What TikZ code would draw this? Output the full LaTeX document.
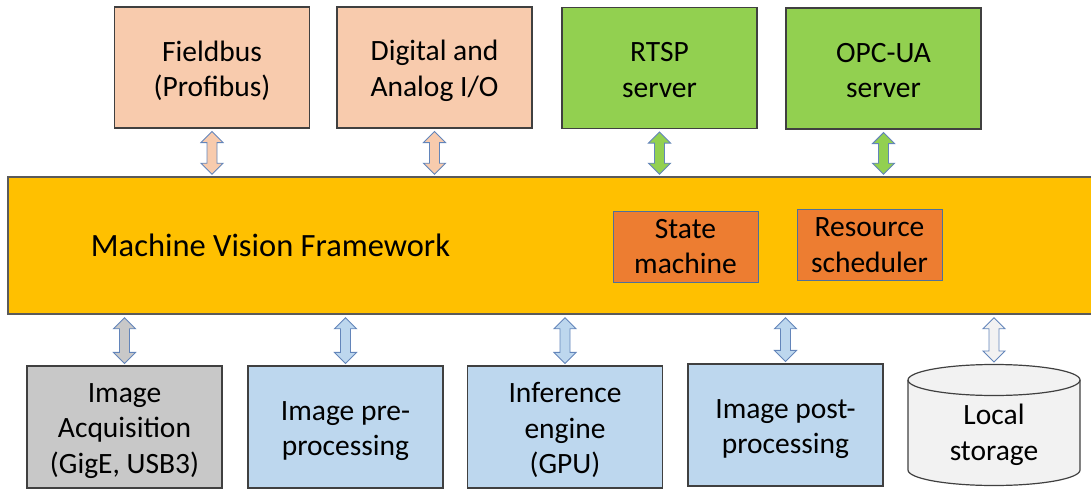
\documentclass[tikz,border=0pt]{standalone}
\usepackage{fontspec}
\setmainfont{Carlito}
\usetikzlibrary{calc}

\definecolor{peach}{HTML}{F8CBAD}
\definecolor{leaf}{HTML}{92D050}
\definecolor{amber}{HTML}{FFC000}
\definecolor{rust}{HTML}{ED7D31}
\definecolor{sky}{HTML}{BDD7EE}
\definecolor{stone}{HTML}{C8C8C8}
\definecolor{pale}{HTML}{F2F2F2}
\definecolor{boxline}{HTML}{404040}
\definecolor{frameline}{HTML}{5A5A5A}
\definecolor{innerline}{HTML}{50709A}
\definecolor{arrowline}{HTML}{6385BA}

\newcommand\boxfont{\fontsize{29.5}{35.5}\selectfont}
\newcommand\titlefont{\fontsize{32.5}{38}\selectfont}
% taller first-line struts nudge the centred text blocks down a little
\newcommand\tl{\rule{0pt}{27pt}}
\newcommand\tls{\rule{0pt}{23pt}}

% block-style double-headed vertical arrow between two points
\newcommand\udarrow[3]{%
  \filldraw[#1] let \p1=(#2), \p2=(#3) in
    (\x1,\y1-3pt) -- (\x1+11pt,\y1-14pt) -- (\x1+5pt,\y1-14pt) --
    (\x1+5pt,\y2+13pt) -- (\x1+11pt,\y2+13pt) -- (\x1,\y2+2pt) --
    (\x1-11pt,\y2+13pt) -- (\x1-5pt,\y2+13pt) -- (\x1-5pt,\y1-14pt) --
    (\x1-11pt,\y1-14pt) -- cycle;}

\tikzset{
  box/.style={draw=boxline, line width=1.2pt, inner sep=0pt, align=center,
    minimum width=195pt, minimum height=121pt, font=\boxfont, text=black},
  inner/.style={draw=innerline, line width=0.9pt, fill=rust, inner sep=0pt,
    align=center, minimum width=145pt, minimum height=71pt, font=\boxfont},
  arr/.style={draw=arrowline, line width=0.9pt, line join=miter},
}

\begin{document}
\begin{tikzpicture}[x=1pt,y=1pt]
\useasboundingbox (0,0) rectangle (1091,-489);

% upper row
\node[box, fill=peach] (fb)   at (212,-67.5)   {\tl Fieldbus\\(Profibus)};
\node[box, fill=peach] (dio)  at (434.5,-67.5) {\tl Digital and\\Analog I/O};
\node[box, fill=leaf]  (rtsp) at (659.5,-68)   {\tls RTSP\\server};
\node[box, fill=leaf]  (opc)  at (883.5,-68.5) {\tls OPC-UA\\server};

% framework band (runs past the right edge)
\node[draw=frameline, line width=1.5pt, fill=amber, minimum width=1100pt,
      minimum height=137pt, inner sep=0pt, anchor=west] (frame) at (7,-245.5) {};
\node[font=\titlefont, anchor=base] (title) at (270.5,-256) {Machine Vision Framework};
\node[inner] (sm) at (685.5,-246.5) {State\\machine};
\node[inner] (rs) at (869.5,-245)   {Resource\\scheduler};

% lower row
\node[box, fill=stone, minimum height=122pt] (acq)  at (124.5,-427) {\tl Image\\Acquisition\\(GigE, USB3)};
\node[box, fill=sky,   minimum height=122pt] (pre)  at (345.5,-427) {\tl Image pre-\\processing};
\node[box, fill=sky,   minimum height=122pt] (inf)  at (565,-427)   {\tl Inference\\engine\\(GPU)};
\node[box, fill=sky,   minimum height=122pt] (post) at (785.5,-425) {\tl Image post-\\processing};

% local storage drum
\filldraw[draw=boxline, line width=1.2pt, fill=pale]
  (908,-380) -- (908,-470) arc (180:360:86 and 15.5) -- (1080,-380)
  arc (0:180:86 and 15.5) -- cycle;
\draw[boxline, line width=1.2pt] (908,-380) arc (180:360:86 and 15.5);
\coordinate (storetop) at (994,-364);
\node[font=\boxfont, align=center, inner sep=0pt] (store) at (994,-435) {Local\\storage};

% links to the framework
\udarrow{arr, fill=peach}{fb.south}{fb.south |- frame.north}
\udarrow{arr, fill=peach}{dio.south}{dio.south |- frame.north}
\udarrow{arr, fill=leaf}{rtsp.south}{rtsp.south |- frame.north}
\udarrow{arr, fill=leaf}{opc.south}{opc.south |- frame.north}
\udarrow{arr, fill=stone}{acq.north |- frame.south}{acq.north}
\udarrow{arr, fill=sky}{pre.north |- frame.south}{pre.north}
\udarrow{arr, fill=sky}{inf.north |- frame.south}{inf.north}
\udarrow{arr, fill=sky}{post.north |- frame.south}{post.north}
\udarrow{arr, fill=pale}{storetop |- frame.south}{storetop}
\end{tikzpicture}
\end{document}
